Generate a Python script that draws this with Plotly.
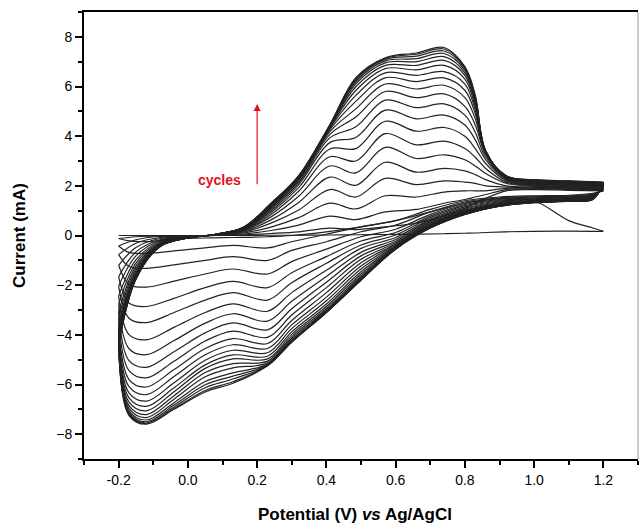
import plotly.graph_objects as go

# Potential grids (V vs Ag/AgCl)
ANODIC_V = [-0.2, -0.15, -0.08, 0.0, 0.08, 0.16, 0.24, 0.32, 0.41, 0.485, 0.57,
            0.66, 0.74, 0.80, 0.83, 0.86, 0.92, 1.0, 1.1, 1.2]
CATHODIC_V = [1.17, 1.1, 1.0, 0.9, 0.8, 0.7, 0.6, 0.5, 0.4, 0.3, 0.23, 0.13,
              0.05, -0.04, -0.12, -0.17, -0.2]

# Current (mA) of each cycle, forward (anodic) sweep
ANODIC_I = [
    [0, 0, 0, 0, 0, 0, 0.01, 0.01, 0.02, 0.03, 0.04, 0.05, 0.07, 0.09, 0.1, 0.12, 0.15, 0.17, 0.18, 0.17],
    [-0.12, -0.05, -0.02, -0.02, 0.0, 0.03, 0.08, 0.15, 0.3, 0.24, 0.35, 0.5, 0.8, 1.1, 1.3, 1.5, 1.8, 1.85, 1.82, 1.8],
    [-0.42, -0.17, -0.04, -0.03, 0.0, 0.06, 0.2, 0.42, 0.78, 0.64, 0.95, 1.05, 1.3, 1.45, 1.55, 1.65, 1.85, 1.88, 1.85, 1.82],
    [-0.77, -0.31, -0.08, -0.04, 0.01, 0.1, 0.34, 0.72, 1.3, 1.07, 1.6, 1.55, 1.75, 1.8, 1.8, 1.8, 1.9, 1.9, 1.87, 1.85],
    [-1.2, -0.48, -0.12, -0.05, 0.01, 0.13, 0.5, 1.03, 1.85, 1.55, 2.3, 2.05, 2.2, 2.15, 2.1, 2.0, 1.95, 1.92, 1.9, 1.88],
    [-1.66, -0.66, -0.17, -0.06, 0.02, 0.16, 0.63, 1.33, 2.35, 2.02, 2.95, 2.55, 2.7, 2.6, 2.45, 2.25, 2.0, 1.95, 1.92, 1.9],
    [-2.04, -0.82, -0.2, -0.07, 0.02, 0.19, 0.75, 1.58, 2.8, 2.52, 3.55, 3.1, 3.25, 3.05, 2.8, 2.5, 2.1, 1.98, 1.95, 1.92],
    [-2.44, -0.98, -0.24, -0.07, 0.02, 0.21, 0.85, 1.78, 3.17, 3.0, 4.1, 3.65, 3.8, 3.5, 3.15, 2.7, 2.15, 2.0, 1.97, 1.95],
    [-2.78, -1.11, -0.28, -0.08, 0.03, 0.23, 0.93, 1.93, 3.48, 3.5, 4.6, 4.2, 4.35, 4.0, 3.5, 2.9, 2.2, 2.03, 2.0, 1.97],
    [-3.08, -1.23, -0.31, -0.08, 0.03, 0.25, 1.0, 2.05, 3.74, 3.95, 5.05, 4.7, 4.85, 4.45, 3.85, 3.05, 2.25, 2.06, 2.02, 1.99],
    [-3.32, -1.33, -0.33, -0.09, 0.03, 0.26, 1.06, 2.13, 3.93, 4.38, 5.45, 5.15, 5.3, 4.85, 4.15, 3.15, 2.28, 2.08, 2.04, 2.01],
    [-3.54, -1.42, -0.35, -0.09, 0.04, 0.27, 1.11, 2.2, 4.07, 4.77, 5.8, 5.55, 5.7, 5.2, 4.45, 3.25, 2.3, 2.1, 2.06, 2.03],
    [-3.72, -1.49, -0.37, -0.09, 0.04, 0.28, 1.15, 2.25, 4.18, 5.1, 6.1, 5.9, 6.05, 5.55, 4.7, 3.3, 2.32, 2.12, 2.08, 2.05],
    [-3.87, -1.55, -0.39, -0.1, 0.04, 0.29, 1.18, 2.29, 4.26, 5.4, 6.35, 6.2, 6.35, 5.85, 4.9, 3.35, 2.33, 2.14, 2.1, 2.07],
    [-3.99, -1.6, -0.4, -0.1, 0.04, 0.3, 1.21, 2.32, 4.32, 5.64, 6.55, 6.45, 6.6, 6.1, 5.05, 3.38, 2.34, 2.16, 2.12, 2.08],
    [-4.09, -1.64, -0.41, -0.1, 0.05, 0.31, 1.23, 2.34, 4.36, 5.84, 6.72, 6.67, 6.85, 6.3, 5.2, 3.4, 2.35, 2.18, 2.13, 2.09],
    [-4.18, -1.67, -0.42, -0.1, 0.05, 0.31, 1.25, 2.36, 4.39, 5.99, 6.85, 6.85, 7.05, 6.45, 5.3, 3.4, 2.36, 2.2, 2.15, 2.1],
    [-4.25, -1.7, -0.43, -0.1, 0.05, 0.32, 1.26, 2.37, 4.41, 6.11, 6.95, 7.0, 7.2, 6.55, 5.4, 3.4, 2.37, 2.21, 2.16, 2.11],
    [-4.31, -1.72, -0.43, -0.1, 0.05, 0.32, 1.27, 2.38, 4.43, 6.2, 7.03, 7.12, 7.33, 6.65, 5.48, 3.4, 2.38, 2.22, 2.17, 2.12],
    [-4.35, -1.74, -0.44, -0.1, 0.05, 0.32, 1.28, 2.39, 4.44, 6.27, 7.09, 7.22, 7.43, 6.72, 5.55, 3.4, 2.39, 2.23, 2.18, 2.13],
    [-4.38, -1.75, -0.44, -0.1, 0.05, 0.33, 1.29, 2.4, 4.45, 6.32, 7.13, 7.3, 7.51, 6.77, 5.6, 3.4, 2.4, 2.24, 2.19, 2.14],
    [-4.4, -1.76, -0.44, -0.1, 0.05, 0.33, 1.3, 2.41, 4.46, 6.36, 7.16, 7.35, 7.57, 6.8, 5.65, 3.4, 2.4, 2.25, 2.2, 2.15],
]

# Current (mA) of each cycle, reverse (cathodic) sweep
CATHODIC_I = [
    [0.3, 0.6, 1.4, 1.5, 1.3, 0.95, 0.6, 0.35, 0.15, 0.0, -0.05, -0.08, -0.1, -0.15, -0.25, -0.22, -0.12],
    [1.7, 1.62, 1.6, 1.55, 1.4, 1.05, 0.6, 0.35, 0.05, -0.25, -0.5, -0.4, -0.5, -0.62, -0.72, -0.68, -0.42],
    [1.68, 1.6, 1.57, 1.52, 1.35, 0.95, 0.42, 0.15, -0.25, -0.6, -1.0, -0.85, -1.0, -1.18, -1.32, -1.25, -0.77],
    [1.66, 1.58, 1.55, 1.48, 1.3, 0.85, 0.25, -0.05, -0.55, -1.05, -1.55, -1.35, -1.55, -1.84, -2.08, -1.97, -1.2],
    [1.64, 1.56, 1.52, 1.45, 1.25, 0.78, 0.12, -0.22, -0.85, -1.5, -2.1, -1.85, -2.1, -2.53, -2.86, -2.72, -1.66],
    [1.62, 1.54, 1.5, 1.42, 1.2, 0.72, 0.02, -0.38, -1.12, -1.9, -2.6, -2.3, -2.6, -3.1, -3.51, -3.33, -2.04],
    [1.6, 1.52, 1.48, 1.39, 1.15, 0.65, -0.08, -0.52, -1.4, -2.3, -3.05, -2.75, -3.1, -3.7, -4.2, -3.99, -2.44],
    [1.58, 1.5, 1.46, 1.36, 1.1, 0.6, -0.16, -0.68, -1.65, -2.65, -3.45, -3.15, -3.53, -4.23, -4.8, -4.56, -2.78],
    [1.57, 1.49, 1.44, 1.33, 1.06, 0.55, -0.23, -0.82, -1.88, -2.95, -3.8, -3.52, -3.92, -4.68, -5.31, -5.04, -3.08],
    [1.56, 1.48, 1.42, 1.3, 1.02, 0.5, -0.29, -0.96, -2.1, -3.2, -4.1, -3.85, -4.25, -5.06, -5.73, -5.44, -3.32],
    [1.55, 1.46, 1.41, 1.28, 0.99, 0.47, -0.34, -1.1, -2.3, -3.42, -4.35, -4.15, -4.55, -5.4, -6.1, -5.8, -3.54],
    [1.54, 1.45, 1.4, 1.26, 0.96, 0.44, -0.38, -1.23, -2.48, -3.6, -4.55, -4.4, -4.8, -5.68, -6.41, -6.09, -3.72],
    [1.53, 1.44, 1.38, 1.25, 0.94, 0.41, -0.42, -1.35, -2.63, -3.75, -4.72, -4.62, -5.02, -5.93, -6.67, -6.34, -3.87],
    [1.52, 1.43, 1.37, 1.23, 0.92, 0.39, -0.45, -1.46, -2.76, -3.88, -4.86, -4.81, -5.21, -6.13, -6.88, -6.54, -3.99],
    [1.51, 1.42, 1.36, 1.22, 0.9, 0.37, -0.47, -1.55, -2.86, -3.98, -4.97, -4.97, -5.35, -6.29, -7.06, -6.71, -4.09],
    [1.5, 1.41, 1.35, 1.21, 0.89, 0.35, -0.49, -1.63, -2.94, -4.07, -5.06, -5.16, -5.52, -6.45, -7.21, -6.85, -4.18],
    [1.49, 1.4, 1.34, 1.2, 0.88, 0.34, -0.51, -1.69, -3.0, -4.14, -5.13, -5.33, -5.69, -6.59, -7.33, -6.96, -4.25],
    [1.48, 1.4, 1.34, 1.19, 0.87, 0.33, -0.52, -1.73, -3.04, -4.2, -5.18, -5.53, -5.88, -6.73, -7.43, -7.06, -4.31],
    [1.47, 1.39, 1.33, 1.19, 0.86, 0.32, -0.53, -1.76, -3.07, -4.24, -5.21, -5.66, -6.01, -6.83, -7.5, -7.13, -4.35],
    [1.46, 1.39, 1.33, 1.18, 0.86, 0.31, -0.54, -1.78, -3.09, -4.27, -5.23, -5.78, -6.13, -6.91, -7.55, -7.17, -4.38],
    [1.46, 1.38, 1.32, 1.18, 0.85, 0.3, -0.55, -1.79, -3.1, -4.29, -5.24, -5.89, -6.24, -6.97, -7.58, -7.2, -4.4],
    [1.45, 1.38, 1.32, 1.18, 0.85, 0.3, -0.55, -1.8, -3.1, -4.3, -5.25, -5.95, -6.3, -7.0, -7.6, -7.25, -4.4],
]

X_TICKS = [-0.2, 0.0, 0.2, 0.4, 0.6, 0.8, 1.0, 1.2]
Y_TICKS = [-8, -6, -4, -2, 0, 2, 4, 6, 8]

FONT = "Arial, Liberation Sans, sans-serif"
LINE = dict(color="#222222", width=1.2, shape="spline", smoothing=1.0)

fig = go.Figure()
for a, c in zip(ANODIC_I, CATHODIC_I):
    fig.add_trace(go.Scatter(x=ANODIC_V, y=a, mode="lines", line=LINE,
                             showlegend=False, hoverinfo="skip"))
    fig.add_trace(go.Scatter(x=[ANODIC_V[-1]] + CATHODIC_V, y=[a[-1]] + c,
                             mode="lines", line=LINE, showlegend=False,
                             hoverinfo="skip"))

axis_common = dict(
    showgrid=False, zeroline=False, showline=True, linecolor="black",
    linewidth=2, ticks="outside", ticklen=7, tickwidth=1.5, tickcolor="black",
    tickfont=dict(family=FONT, size=14, color="black"),
)

fig.update_layout(
    width=639, height=526,
    margin=dict(l=84, r=1, t=12, b=67),
    paper_bgcolor="white", plot_bgcolor="white",
    xaxis=dict(range=[-0.3, 1.3], tickvals=X_TICKS,
               ticktext=[f"{v:.1f}" for v in X_TICKS],
               minor=dict(ticks="outside", ticklen=4, tickwidth=1.5,
                          tickcolor="black", dtick=0.1, tick0=-0.3),
               mirror=True,
               **axis_common),
    yaxis=dict(range=[-9, 9], tickvals=Y_TICKS,
               minor=dict(ticks="outside", ticklen=4, tickwidth=1.5,
                          tickcolor="black", dtick=1, tick0=-9),
               title=dict(text="<b>Current (mA)</b>",
                          font=dict(family=FONT, size=17, color="black"),
                          standoff=26),
               **axis_common),
)

# x-axis title (as annotation near the bottom edge like the original)
fig.add_annotation(x=0.49, y=0, xref="paper", yref="paper", yshift=-55,
                   yanchor="middle", showarrow=False,
                   text="<b>Potential (V) <i>vs</i> Ag/AgCl</b>",
                   font=dict(family=FONT, size=17, color="black"))

# right frame border (thin, grey)
fig.add_shape(type="line", xref="paper", yref="paper", x0=1, x1=1, y0=0, y1=1,
              line=dict(color="#999999", width=1))

# "cycles" arrow and label
fig.add_annotation(x=0.2, y=5.3, ax=0.2, ay=2.0, xref="x", yref="y",
                   axref="x", ayref="y", text="", showarrow=True,
                   arrowhead=2, arrowsize=1.2, arrowwidth=1.2,
                   arrowcolor="#e3131b")
fig.add_annotation(x=0.09, y=2.25, xref="x", yref="y", text="<b>cycles</b>",
                   showarrow=False,
                   font=dict(family=FONT, size=14, color="#e3131b"))

fig.write_html("out.html")
